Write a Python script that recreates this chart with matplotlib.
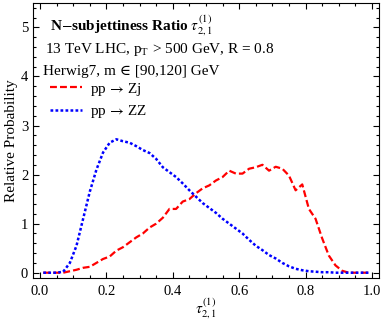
import matplotlib
matplotlib.use("Agg")
import matplotlib.pyplot as plt
from matplotlib.ticker import MultipleLocator
from matplotlib.lines import Line2D

plt.rcParams['font.family'] = ['Liberation Serif', 'DejaVu Serif']
plt.rcParams['mathtext.fontset'] = 'stix'

x = [0.01 + 0.02 * i for i in range(50)]

zj = [0.0, 0.0, 0.0, 0.0, 0.03, 0.06, 0.10, 0.12, 0.20, 0.28,
      0.33, 0.45, 0.52, 0.62, 0.72, 0.80, 0.92, 1.00, 1.12, 1.30,
      1.30, 1.45, 1.50, 1.62, 1.72, 1.78, 1.88, 1.95, 2.08, 2.02,
      2.02, 2.12, 2.15, 2.20, 2.08, 2.16, 2.12, 1.98, 1.68, 1.80,
      1.30, 1.10, 0.70, 0.35, 0.15, 0.04, 0.0, 0.0, 0.0, 0.0]

zz = [0.0, 0.0, 0.0, 0.02, 0.20, 0.55, 1.10, 1.65, 2.10, 2.45,
      2.65, 2.72, 2.68, 2.65, 2.58, 2.50, 2.44, 2.32, 2.15, 2.05,
      1.95, 1.82, 1.68, 1.55, 1.42, 1.32, 1.22, 1.10, 1.00, 0.90,
      0.80, 0.67, 0.55, 0.46, 0.36, 0.29, 0.20, 0.13, 0.08, 0.05,
      0.03, 0.02, 0.01, 0.01, 0.0, 0.0, 0.0, 0.0, 0.0, 0.0]

fig = plt.figure(figsize=(3.82, 3.23), dpi=100)
ax = fig.add_axes([0.0864, 0.139, 0.9056, 0.852])

lw = 1.6
ax.plot(x, zj, color='#ff0000', lw=lw, dashes=(3.1, 1.4), dash_capstyle='butt')
ax.plot(x, zz, color='#0000ff', lw=1.8, dashes=(1.1, 0.9), dash_capstyle='butt')

ax.set_xlim(-0.021, 1.021)
ax.set_ylim(-0.11, 5.5)
ax.xaxis.set_major_locator(MultipleLocator(0.2))
ax.xaxis.set_minor_locator(MultipleLocator(0.05))
ax.yaxis.set_major_locator(MultipleLocator(1))
ax.yaxis.set_minor_locator(MultipleLocator(0.2))
ax.set_xticks([0, 0.2, 0.4, 0.6, 0.8, 1.0])
ax.set_xticklabels(['0.0', '0.2', '0.4', '0.6', '0.8', '1.0'])
ax.tick_params(which='both', direction='in', top=True, right=True, labelsize=10.5, width=0.8)
ax.tick_params(which='major', length=4)
ax.tick_params(which='minor', length=2)
ax.tick_params(axis='x', pad=5)
for s in ax.spines.values():
    s.set_linewidth(0.8)

ax.set_xlabel(r'$\tau_{2,1}^{(1)}$', fontsize=11, labelpad=-1)
ax.set_ylabel('Relative Probability', fontsize=11, labelpad=2)

fs = 11
ax.text(0.049, 0.915, r'N$-$subjettiness Ratio $\boldsymbol{\tau_{2,1}^{(1)}}$', transform=ax.transAxes,
        fontsize=fs, fontweight='bold', va='center', ha='left')
ax.text(0.035, 0.832, r'13 TeV LHC, p$_\mathregular{T}$ > 500 GeV, R = 0.8', transform=ax.transAxes,
        fontsize=fs, va='center', ha='left')
ax.text(0.03, 0.752, 'Herwig7, m ∈ [90,120] GeV', transform=ax.transAxes,
        fontsize=fs, va='center', ha='left')

handles = [Line2D([], [], color='#ff0000', lw=lw, dashes=(3.1, 1.4)),
           Line2D([], [], color='#0000ff', lw=1.8, dashes=(1.1, 0.9))]
ax.legend(handles, [r'pp$\,\rightarrow\,$Zj', r'pp$\,\rightarrow\,$ZZ'], loc='upper left',
          bbox_to_anchor=(0.049, 0.718),
          frameon=False, fontsize=fs, handlelength=2.1, handletextpad=0.55,
          labelspacing=0.35, borderaxespad=0, borderpad=0)

fig.savefig('out.png', dpi=100)
